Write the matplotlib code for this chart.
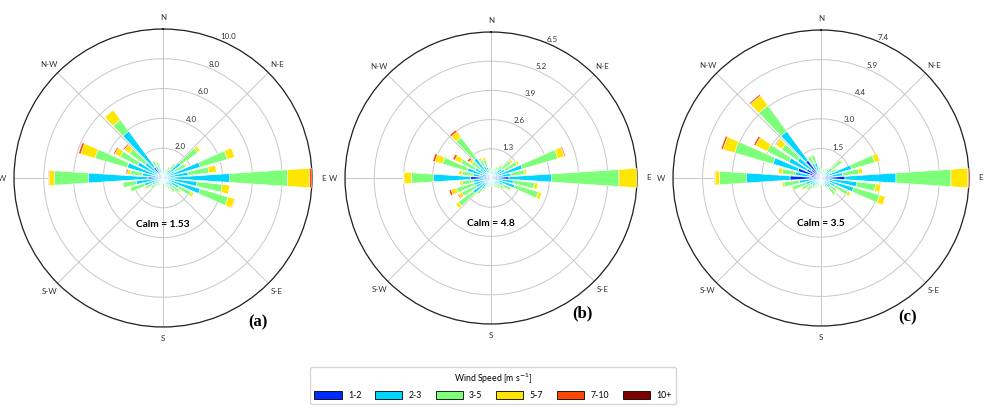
import numpy as np
import matplotlib.pyplot as plt
from matplotlib.patches import Patch

plt.rcParams['font.family'] = ['Lato', 'DejaVu Sans']

# 10 degree sectors, compass degrees (0 = N, clockwise)
directions = list(range(0, 360, 10))
speed_bins = ["1-2", "2-3", "3-5", "5-7", "7-10", "10+"]
compass = ["N", "N-E", "E", "S-E", "S", "S-W", "W", "N-W"]

# frequency (%) per sector, columns = speed bins 1-2 ... 10+
rose_a = [
    [0.1, 0.2, 0.1, 0, 0, 0],        # 0
    [0.1, 0.2, 0.2, 0, 0, 0],        # 10
    [0.1, 0.3, 0.2, 0, 0, 0],        # 20
    [0.1, 0.4, 0.3, 0.05, 0, 0],     # 30
    [0.2, 0.5, 0.5, 0.05, 0, 0],     # 40
    [0.2, 1.3, 1.4, 0.2, 0, 0],      # 50
    [0.2, 0.7, 0.8, 0.1, 0, 0],      # 60
    [0.3, 2.3, 1.9, 0.5, 0, 0],      # 70
    [0.3, 1.4, 1.4, 0.5, 0, 0],      # 80
    [0.45, 4.0, 3.92, 1.48, 0.15, 0],  # 90
    [0.3, 2.0, 1.7, 0.5, 0, 0],      # 100
    [0.3, 2.3, 1.95, 0.45, 0.05, 0],  # 110
    [0.2, 1.0, 0.9, 0.2, 0, 0],      # 120
    [0.2, 0.6, 0.6, 0.1, 0, 0],      # 130
    [0.1, 0.5, 0.6, 0.05, 0, 0],     # 140
    [0.1, 0.4, 0.3, 0, 0, 0],        # 150
    [0.1, 0.3, 0.2, 0, 0, 0],        # 160
    [0.1, 0.2, 0.1, 0, 0, 0],        # 170
    [0.1, 0.2, 0.1, 0, 0, 0],        # 180
    [0.1, 0.2, 0.1, 0, 0, 0],        # 190
    [0.1, 0.2, 0.2, 0, 0, 0],        # 200
    [0.1, 0.3, 0.2, 0, 0, 0],        # 210
    [0.1, 0.3, 0.3, 0, 0, 0],        # 220
    [0.2, 0.4, 0.4, 0.05, 0, 0],     # 230
    [0.2, 0.6, 0.5, 0.1, 0, 0],      # 240
    [0.3, 1.0, 1.0, 0.05, 0, 0],     # 250
    [0.3, 1.5, 0.9, 0.05, 0, 0],     # 260
    [1.0, 4.0, 2.3, 0.35, 0.05, 0],  # 270
    [0.4, 1.0, 0.8, 0.2, 0.1, 0],    # 280
    [0.5, 2.0, 2.25, 1.0, 0.15, 0],  # 290
    [0.4, 1.5, 1.3, 0.4, 0.1, 0],    # 300
    [0.4, 1.1, 1.3, 0.4, 0.1, 0],    # 310
    [0.9, 3.0, 0.95, 0.8, 0.03, 0],  # 320
    [0.3, 0.6, 0.4, 0.05, 0, 0],     # 330
    [0.2, 0.5, 0.4, 0, 0, 0],        # 340
    [0.1, 0.3, 0.2, 0, 0, 0],        # 350
]

rose_b = [
    [0.1, 0.2, 0.15, 0, 0, 0],
    [0.1, 0.2, 0.1, 0, 0, 0],
    [0.1, 0.2, 0.15, 0, 0, 0],
    [0.1, 0.25, 0.2, 0, 0, 0],
    [0.1, 0.3, 0.3, 0.05, 0, 0],
    [0.2, 0.4, 0.5, 0.1, 0, 0],
    [0.2, 0.5, 0.6, 0.1, 0, 0],
    [0.3, 1.15, 1.65, 0.3, 0.05, 0],
    [0.3, 0.6, 0.6, 0.1, 0, 0],
    [0.8, 1.9, 3.0, 0.8, 0, 0],
    [0.3, 0.7, 0.95, 0.15, 0, 0],
    [0.3, 0.8, 1.1, 0.15, 0, 0],
    [0.2, 0.4, 0.4, 0.05, 0, 0],
    [0.1, 0.3, 0.3, 0.05, 0, 0],
    [0.1, 0.3, 0.2, 0, 0, 0],
    [0.1, 0.2, 0.2, 0, 0, 0],
    [0.1, 0.15, 0.1, 0, 0, 0],
    [0.1, 0.15, 0.1, 0, 0, 0],
    [0.1, 0.15, 0.1, 0, 0, 0],
    [0.1, 0.15, 0.1, 0, 0, 0],
    [0.1, 0.2, 0.15, 0, 0, 0],
    [0.1, 0.3, 0.2, 0.05, 0, 0],
    [0.2, 0.4, 0.3, 0.05, 0, 0],
    [0.3, 0.7, 0.8, 0.15, 0, 0],
    [0.25, 0.5, 0.7, 0.15, 0.05, 0],
    [0.3, 0.5, 0.8, 0.25, 0.1, 0],
    [0.3, 0.5, 0.5, 0.1, 0, 0],
    [0.9, 1.65, 1.0, 0.33, 0.02, 0],
    [0.3, 0.5, 0.5, 0.15, 0, 0],
    [0.4, 0.7, 1.15, 0.35, 0.1, 0],
    [0.3, 0.5, 0.7, 0.3, 0.1, 0],
    [0.2, 0.4, 0.45, 0.15, 0.1, 0],
    [0.3, 0.8, 1.15, 0.3, 0.1, 0],
    [0.2, 0.4, 0.3, 0.1, 0, 0],
    [0.2, 0.3, 0.35, 0.1, 0, 0],
    [0.1, 0.2, 0.2, 0, 0, 0],
]

rose_c = [
    [0.1, 0.2, 0.2, 0, 0, 0],
    [0.1, 0.2, 0.1, 0, 0, 0],
    [0.1, 0.2, 0.15, 0, 0, 0],
    [0.1, 0.25, 0.2, 0, 0, 0],
    [0.1, 0.25, 0.25, 0.05, 0, 0],
    [0.2, 0.5, 0.6, 0.05, 0, 0],
    [0.2, 0.3, 0.35, 0.05, 0, 0],
    [0.4, 1.2, 1.2, 0.25, 0, 0],
    [0.4, 0.7, 0.8, 0.2, 0, 0],
    [1.2, 2.55, 2.75, 0.85, 0.05, 0],
    [0.4, 1.4, 0.95, 0.25, 0, 0],
    [0.4, 1.3, 1.35, 0.3, 0, 0],
    [0.3, 0.5, 0.7, 0.15, 0, 0],
    [0.2, 0.4, 0.4, 0.05, 0, 0],
    [0.2, 0.4, 0.45, 0.05, 0, 0],
    [0.1, 0.25, 0.2, 0, 0, 0],
    [0.1, 0.2, 0.15, 0, 0, 0],
    [0.1, 0.15, 0.1, 0, 0, 0],
    [0.1, 0.15, 0.1, 0, 0, 0],
    [0.1, 0.15, 0.1, 0, 0, 0],
    [0.1, 0.2, 0.15, 0, 0, 0],
    [0.1, 0.25, 0.2, 0, 0, 0],
    [0.1, 0.3, 0.25, 0, 0, 0],
    [0.2, 0.35, 0.35, 0.05, 0, 0],
    [0.2, 0.4, 0.45, 0.05, 0, 0],
    [0.3, 0.5, 0.7, 0.05, 0, 0],
    [0.4, 0.7, 0.75, 0.1, 0, 0],
    [1.55, 2.17, 1.36, 0.22, 0.03, 0],
    [0.5, 0.8, 0.65, 0.2, 0, 0],
    [1.2, 1.3, 2.0, 0.6, 0.1, 0],
    [0.8, 1.0, 1.2, 0.65, 0.1, 0],
    [0.6, 0.85, 1.0, 0.35, 0.05, 0],
    [1.1, 1.8, 1.6, 0.6, 0.08, 0],
    [0.3, 0.5, 0.4, 0.05, 0, 0],
    [0.3, 0.5, 0.4, 0.05, 0, 0],
    [0.1, 0.3, 0.25, 0, 0, 0],
]

calm_values = ["1.53", "4.8", "3.5"]
panel_labels = ["(a)", "(b)", "(c)"]

colors = [plt.cm.jet(k / 6) for k in range(1, 7)]

W, H = 987, 408
# centre x, centre y, radius in pixels
layout = [(163, 178, 149), (491, 178, 146), (821, 178, 148)]
panel_pos = [(258, 322), (582, 313), (908, 317)]


def draw_rose(ax, table, calm):
    table = np.array(table, dtype=float)
    theta = np.radians(directions)
    width = np.radians(10) * 0.76
    bottom = np.zeros(len(directions))
    for j in range(table.shape[1]):
        h = table[:, j]
        keep = h > 0
        ax.bar(theta[keep], h[keep], width=width, bottom=bottom[keep],
               color=colors[j], edgecolor='white', linewidth=0.4, zorder=3)
        bottom += h
    rmax = bottom.max()
    ax.set_theta_zero_location('N')
    ax.set_theta_direction(-1)
    ax.set_ylim(0, rmax)
    radii = np.linspace(0, rmax, 6)[1:]
    ax.set_rgrids(radii, ['%.1f' % r for r in radii], angle=22.5,
                  fontsize=5.8, color='#333333')
    ax.set_thetagrids(np.arange(0, 360, 45), compass, fontsize=5.8,
                      color='#333333')
    ax.tick_params(axis='x', pad=-2)
    ax.set_axisbelow(True)
    ax.grid(color='#c8c8c8', linewidth=0.7)
    ax.spines['polar'].set_linewidth(0.9)
    ax.spines['polar'].set_color('#222222')
    ax.text(0.5, 0.345, 'Calm = ' + calm, transform=ax.transAxes,
            ha='center', va='center', fontsize=7.3, fontweight='bold')


fig = plt.figure(figsize=(W / 100, H / 100), dpi=100)
for (cx, cy, r), table, calm in zip(layout, [rose_a, rose_b, rose_c], calm_values):
    ax = fig.add_axes([(cx - r) / W, (H - cy - r) / H, 2 * r / W, 2 * r / H],
                      projection='polar')
    draw_rose(ax, table, calm)

for (px, py), lab in zip(panel_pos, panel_labels):
    fig.text(px / W, 1 - py / H, lab, ha='center', va='center', fontsize=12,
             fontweight='bold', family='Liberation Serif')

handles = [Patch(facecolor=c, edgecolor='black', linewidth=0.6) for c in colors]
fig.legend(handles, speed_bins, loc='upper center',
           bbox_to_anchor=(493 / W, 1 - 363 / H), ncol=6, fontsize=6.3,
           title='Wind Speed [m s$^{-1}$]', title_fontsize=6.3,
           handlelength=3.1, handleheight=1.1, handletextpad=0.7,
           columnspacing=1.6, frameon=True, fancybox=True,
           edgecolor='#cccccc', borderpad=0.5)

fig.savefig('out.png', dpi=100)
